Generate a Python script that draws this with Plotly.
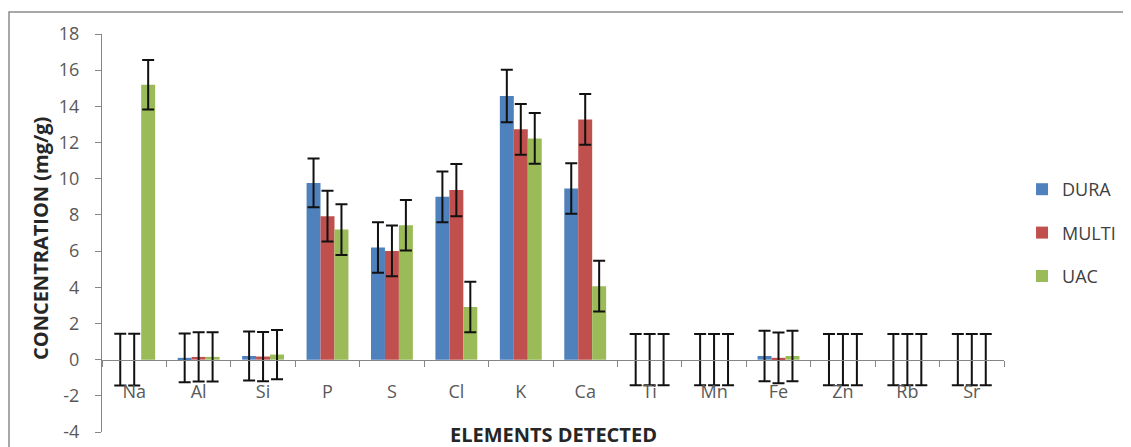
import plotly.graph_objects as go

elements = ["Na", "Al", "Si", "P", "S", "Cl", "K", "Ca", "Ti", "Mn", "Fe", "Zn", "Rb", "Sr"]

dura = [0.0, 0.1, 0.2, 9.77, 6.2, 9.0, 14.57, 9.46, 0.0, 0.0, 0.2, 0.0, 0.0, 0.0]
multi = [0.0, 0.15, 0.17, 7.93, 6.01, 9.37, 12.73, 13.28, 0.0, 0.0, 0.1, 0.0, 0.0, 0.0]
uac = [15.19, 0.15, 0.28, 7.19, 7.43, 2.91, 12.23, 4.06, 0.0, 0.0, 0.2, 0.0, 0.0, 0.0]

dura_err = [1.43, 1.35, 1.36, 1.35, 1.4, 1.4, 1.45, 1.4, 1.42, 1.42, 1.4, 1.42, 1.42, 1.42]
multi_err = [1.43, 1.36, 1.36, 1.4, 1.4, 1.45, 1.4, 1.4, 1.42, 1.42, 1.4, 1.42, 1.42, 1.42]
uac_err = [1.37, 1.36, 1.36, 1.4, 1.4, 1.4, 1.4, 1.4, 1.42, 1.42, 1.4, 1.42, 1.42, 1.42]

y_tickvals = [-4, -2, 0, 2, 4, 6, 8, 10, 12, 14, 16, 18]
y_ticktext = ["-4", "-2", "0", "2", "4", "6", "8", "10", "12", "14", "16", "18"]

series = [
    ("DURA", dura, dura_err, "#4F81BD"),
    ("MULTI", multi, multi_err, "#C0504D"),
    ("UAC", uac, uac_err, "#9BBB59"),
]

Y_MIN, Y_MAX = -4, 18
W, H = 1123, 439          # page body has an 8px margin
ML, MR, MT, MB = 94, 127, 26, 15
FONT = "Open Sans"
AXIS_GRAY = "#868686"
LABEL_GRAY = "#595959"

fig = go.Figure()
for name, vals, errs, color in series:
    fig.add_trace(go.Bar(
        name=name, x=elements, y=vals, marker_color=color, marker_line_width=0,
        legendgroup=name,
        error_y=dict(type="data", array=errs, visible=True, color="#111111",
                     thickness=2, width=6),
    ))

fig.update_layout(
    width=W, height=H,
    margin=dict(l=ML, r=MR, t=MT, b=MB, autoexpand=False),
    paper_bgcolor="white", plot_bgcolor="white",
    barmode="group", bargap=0.35, bargroupgap=0,
    font=dict(family=FONT, size=18, color=LABEL_GRAY),
    showlegend=True,
    legend=dict(x=1.02, xanchor="left", y=0.5, yanchor="middle",
                font=dict(family=FONT, size=18, color="#404040"),
                tracegroupgap=17, itemwidth=30,
                bgcolor="rgba(0,0,0,0)"),
    xaxis=dict(
        type="category", anchor="free",
        position=(0 - Y_MIN) / (Y_MAX - Y_MIN),
        showline=True, linecolor=AXIS_GRAY, linewidth=1,
        ticks="outside", tickson="boundaries", ticklen=6, tickcolor=AXIS_GRAY,
        ticklabelstandoff=16,
        tickfont=dict(family=FONT, size=18, color=LABEL_GRAY),
        showgrid=False, zeroline=False,
    ),
    yaxis=dict(
        range=[Y_MIN, Y_MAX], tickmode="array", tickvals=y_tickvals, ticktext=y_ticktext,
        showline=True, linecolor=AXIS_GRAY, linewidth=1,
        ticks="outside", ticklen=6, tickcolor=AXIS_GRAY,
        ticklabelstandoff=12,
        tickfont=dict(family=FONT, size=18, color=LABEL_GRAY),
        showgrid=False, zeroline=False,
    ),
)

# axis titles
fig.add_annotation(text="<b>CONCENTRATION (mg/g)</b>", xref="paper", yref="paper",
                   x=0, y=0.5, xanchor="center", yanchor="middle", xshift=-62, yshift=-6,
                   textangle=-90, showarrow=False,
                   font=dict(family=FONT, size=20, color="#262626"))
fig.add_annotation(text="<b>ELEMENTS DETECTED</b>", xref="paper", yref="paper",
                   x=0.5, y=0, xanchor="center", yanchor="middle", yshift=-2,
                   showarrow=False,
                   font=dict(family=FONT, size=20, color="#262626"))

# chart-area frame (extends past the cropped right/bottom edges)
fig.add_shape(type="rect", xref="paper", yref="paper",
              xsizemode="pixel", ysizemode="pixel", xanchor=0, yanchor=0,
              x0=1 - ML, x1=W + 20 - ML, y0=-(MB + 20), y1=(H - MB) - 4,
              line=dict(color="#8c8c8c", width=1.5), fillcolor="rgba(0,0,0,0)", layer="below")

fig.write_html("out.html")
